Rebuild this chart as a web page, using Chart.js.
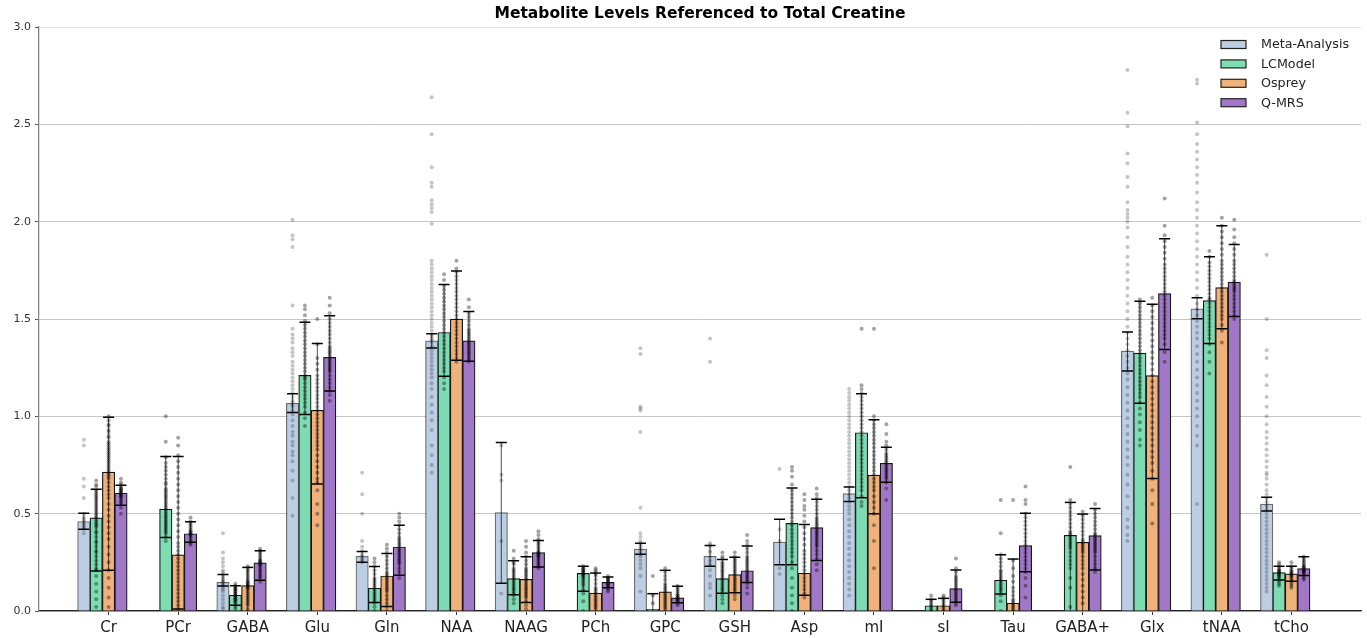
<!DOCTYPE html>
<html>
<head>
<meta charset="utf-8">
<script src="https://cdn.jsdelivr.net/npm/chart.js@4.4.1/dist/chart.umd.min.js"></script>
<style>
  html, body { margin: 0; padding: 0; background: #ffffff; }
  canvas { display: block; }
</style>
</head>
<body>
<canvas id="chart" width="1367" height="638"></canvas>
<script>
// ---- categories and series -------------------------------------------------
const metabolites = ['Cr', 'PCr', 'GABA', 'Glu', 'Gln', 'NAA', 'NAAG', 'PCh', 'GPC',
  'GSH', 'Asp', 'mI', 'sI', 'Tau', 'GABA+', 'Glx', 'tNAA', 'tCho'];
const methods = ['Meta-Analysis', 'LCModel', 'Osprey', 'Q-MRS'];
const yTickValues = [0, 0.5, 1.0, 1.5, 2.0, 2.5, 3.0];

// bar heights (null = no value for that metabolite)
const metaMean = [0.46, null, 0.147, 1.067, 0.281, 1.388, 0.506, null, 0.318, 0.281, 0.354, 0.603, null, null, null, 1.335, 1.552, 0.549];
const lcmMean  = [0.479, 0.524, 0.081, 1.211, 0.117, 1.431, 0.166, 0.193, 0.009, 0.166, 0.45, 0.916, 0.027, 0.158, 0.389, 1.325, 1.595, 0.197];
const ospMean  = [0.714, 0.288, 0.13, 1.031, 0.18, 1.5, 0.163, 0.092, 0.098, 0.187, 0.194, 0.698, 0.027, 0.04, 0.353, 1.209, 1.662, 0.191];
const qmrsMean = [0.605, 0.397, 0.247, 1.303, 0.329, 1.388, 0.3, 0.147, 0.068, 0.207, 0.428, 0.759, 0.115, 0.336, 0.387, 1.631, 1.69, 0.218];

// error bar ends
const metaLow  = [0.42, null, 0.128, 1.02, 0.251, 1.351, 0.142, null, 0.291, 0.23, 0.238, 0.563, null, null, null, 1.233, 1.501, 0.514];
const metaHigh = [0.502, null, 0.188, 1.116, 0.306, 1.424, 0.866, null, 0.348, 0.336, 0.471, 0.637, null, null, null, 1.433, 1.609, 0.585];
const lcmLow   = [0.205, 0.377, 0.03, 1.01, 0.044, 1.206, 0.083, 0.101, 0, 0.091, 0.238, 0.582, 0, 0.087, 0, 1.067, 1.375, 0.159];
const lcmHigh  = [0.625, 0.794, 0.13, 1.483, 0.228, 1.677, 0.258, 0.23, 0.089, 0.265, 0.632, 1.116, 0.06, 0.289, 0.558, 1.591, 1.82, 0.23];
const ospLow   = [0.209, 0.01, 0, 0.652, 0.023, 1.288, 0.044, 0, 0, 0.094, 0.081, 0.5, 0, 0, 0, 0.681, 1.45, 0.153];
const ospHigh  = [0.996, 0.794, 0.224, 1.375, 0.295, 1.747, 0.279, 0.195, 0.209, 0.276, 0.445, 0.983, 0.065, 0.267, 0.498, 1.576, 1.98, 0.23];
const qmrsLow  = [0.543, 0.353, 0.158, 1.13, 0.184, 1.283, 0.226, 0.119, 0.043, 0.147, 0.26, 0.661, 0.045, 0.202, 0.211, 1.343, 1.513, 0.183];
const qmrsHigh = [0.646, 0.459, 0.31, 1.517, 0.441, 1.539, 0.362, 0.175, 0.127, 0.334, 0.574, 0.841, 0.211, 0.502, 0.526, 1.912, 1.883, 0.279];

// individual values shown as dots over each bar
const metaDots = [
  [0.88, 0.85, 0.68, 0.64, 0.58, 0.50, 0.48, 0.47, 0.46, 0.45, 0.44, 0.43, 0.42, 0.40],
  [],
  [0.40, 0.30, 0.27, 0.25, 0.23, 0.21, 0.20, 0.19, 0.18, 0.17, 0.16, 0.15, 0.15, 0.14, 0.13, 0.12, 0.11, 0.10, 0.08, 0.06, 0.04, 0.02, 0.01],
  [2.01, 1.93, 1.91, 1.87, 1.57, 1.45, 1.42, 1.40, 1.38, 1.35, 1.33, 1.31, 1.28, 1.26, 1.24, 1.22, 1.20, 1.18, 1.16, 1.14, 1.12, 1.10, 1.08, 1.07, 1.06, 1.05, 1.03, 1.01, 0.98, 0.95, 0.92, 0.90, 0.87, 0.85, 0.82, 0.80, 0.77, 0.72, 0.67, 0.58, 0.49],
  [0.71, 0.60, 0.50, 0.36, 0.33, 0.31, 0.29, 0.28, 0.27, 0.26, 0.25],
  [2.64, 2.45, 2.28, 2.20, 2.18, 2.11, 2.09, 2.07, 2.05, 1.99, 1.80, 1.78, 1.76, 1.74, 1.72, 1.70, 1.68, 1.66, 1.64, 1.62, 1.60, 1.58, 1.56, 1.54, 1.52, 1.50, 1.48, 1.46, 1.44, 1.42, 1.41, 1.40, 1.39, 1.38, 1.36, 1.34, 1.32, 1.30, 1.28, 1.26, 1.24, 1.22, 1.20, 1.17, 1.14, 1.10, 1.06, 1.02, 0.98, 0.93, 0.85, 0.80, 0.75, 0.71],
  [0.85, 0.70, 0.67, 0.36, 0.09],
  [],
  [1.35, 1.32, 1.05, 1.04, 1.03, 0.92, 0.53, 0.40, 0.38, 0.36, 0.35, 0.34, 0.33, 0.32, 0.31, 0.30, 0.29, 0.28, 0.26, 0.24, 0.22, 0.18, 0.10],
  [1.40, 1.28, 0.35, 0.34, 0.33, 0.31, 0.30, 0.28, 0.26, 0.24, 0.21, 0.18, 0.14, 0.12, 0.08],
  [0.73, 0.42, 0.36, 0.22, 0.19],
  [1.14, 1.12, 1.10, 1.08, 1.06, 1.04, 1.02, 1.00, 0.98, 0.96, 0.94, 0.92, 0.90, 0.88, 0.86, 0.84, 0.82, 0.80, 0.78, 0.76, 0.74, 0.72, 0.70, 0.68, 0.66, 0.64, 0.62, 0.60, 0.58, 0.56, 0.54, 0.52, 0.50, 0.47, 0.44, 0.41, 0.38, 0.35, 0.32, 0.29, 0.26, 0.23, 0.20, 0.17, 0.14, 0.11, 0.08],
  [],
  [],
  [],
  [2.78, 2.56, 2.49, 2.35, 2.30, 2.23, 2.18, 2.10, 2.06, 2.04, 2.02, 2.00, 1.97, 1.92, 1.87, 1.82, 1.78, 1.74, 1.70, 1.66, 1.62, 1.58, 1.54, 1.50, 1.46, 1.43, 1.40, 1.37, 1.34, 1.31, 1.28, 1.25, 1.22, 1.19, 1.15, 1.11, 1.07, 1.03, 0.99, 0.95, 0.91, 0.87, 0.83, 0.79, 0.75, 0.70, 0.65, 0.59, 0.53, 0.47, 0.43, 0.39, 0.36],
  [2.73, 2.71, 2.51, 2.45, 2.40, 2.36, 2.32, 2.28, 2.24, 2.20, 2.15, 2.10, 2.06, 2.02, 1.98, 1.94, 1.90, 1.86, 1.82, 1.78, 1.74, 1.70, 1.66, 1.62, 1.58, 1.55, 1.52, 1.49, 1.46, 1.43, 1.40, 1.36, 1.32, 1.28, 1.24, 1.20, 1.16, 1.12, 1.08, 1.04, 1.00, 0.95, 0.90, 0.85, 0.55],
  [1.83, 1.50, 1.34, 1.30, 1.21, 1.16, 1.10, 1.05, 1.00, 0.96, 0.92, 0.89, 0.86, 0.83, 0.80, 0.77, 0.74, 0.71, 0.70, 0.68, 0.65, 0.62, 0.60, 0.58, 0.56, 0.54, 0.52, 0.50, 0.48, 0.46, 0.44, 0.42, 0.40, 0.38, 0.36, 0.34, 0.32, 0.30, 0.28, 0.26, 0.24, 0.22, 0.20, 0.18, 0.16, 0.14, 0.12, 0.10]
];
const lcmDots = [
  [0.67, 0.65, 0.64, 0.62, 0.61, 0.60, 0.59, 0.58, 0.57, 0.56, 0.55, 0.54, 0.53, 0.52, 0.51, 0.50, 0.49, 0.48, 0.47, 0.46, 0.45, 0.44, 0.43, 0.41, 0.40, 0.38, 0.36, 0.35, 0.33, 0.31, 0.30, 0.28, 0.26, 0.24, 0.22, 0.21, 0.18, 0.14, 0.10, 0.06, 0.02],
  [1.00, 0.87, 0.79, 0.76, 0.74, 0.72, 0.70, 0.68, 0.66, 0.65, 0.63, 0.62, 0.61, 0.60, 0.59, 0.58, 0.57, 0.56, 0.55, 0.54, 0.53, 0.52, 0.51, 0.50, 0.49, 0.48, 0.47, 0.46, 0.45, 0.44, 0.43, 0.42, 0.41, 0.40, 0.38, 0.36],
  [0.14, 0.13, 0.12, 0.12, 0.11, 0.11, 0.10, 0.10, 0.09, 0.09, 0.08, 0.08, 0.07, 0.07, 0.06, 0.06, 0.05, 0.05, 0.04, 0.03, 0.02, 0.01],
  [1.57, 1.55, 1.52, 1.49, 1.47, 1.45, 1.43, 1.41, 1.39, 1.37, 1.35, 1.33, 1.31, 1.29, 1.27, 1.25, 1.23, 1.21, 1.20, 1.19, 1.17, 1.15, 1.13, 1.11, 1.09, 1.07, 1.05, 1.02, 0.99, 0.95],
  [0.27, 0.25, 0.23, 0.21, 0.19, 0.17, 0.16, 0.15, 0.14, 0.13, 0.12, 0.11, 0.10, 0.09, 0.08, 0.07, 0.06, 0.05, 0.04, 0.02, 0.00],
  [1.73, 1.70, 1.67, 1.65, 1.63, 1.61, 1.59, 1.57, 1.55, 1.53, 1.51, 1.49, 1.47, 1.45, 1.43, 1.41, 1.39, 1.37, 1.35, 1.33, 1.31, 1.29, 1.27, 1.25, 1.23, 1.20, 1.17, 1.14],
  [0.31, 0.27, 0.25, 0.24, 0.22, 0.21, 0.20, 0.19, 0.18, 0.17, 0.16, 0.15, 0.14, 0.13, 0.12, 0.11, 0.10, 0.09, 0.08, 0.06, 0.04],
  [0.23, 0.22, 0.22, 0.21, 0.21, 0.20, 0.20, 0.19, 0.19, 0.18, 0.18, 0.17, 0.16, 0.15, 0.14, 0.13, 0.11, 0.09, 0.05, 0.00],
  [0.18, 0.08, 0.04],
  [0.30, 0.28, 0.27, 0.25, 0.24, 0.23, 0.22, 0.21, 0.20, 0.19, 0.18, 0.17, 0.16, 0.15, 0.14, 0.13, 0.12, 0.11, 0.10, 0.08, 0.06, 0.04],
  [0.74, 0.72, 0.69, 0.65, 0.62, 0.60, 0.58, 0.56, 0.54, 0.52, 0.50, 0.48, 0.46, 0.44, 0.42, 0.40, 0.38, 0.36, 0.34, 0.32, 0.30, 0.28, 0.25, 0.22, 0.17, 0.12, 0.08, 0.04, 0.00],
  [1.45, 1.16, 1.14, 1.12, 1.10, 1.08, 1.06, 1.04, 1.02, 1.00, 0.98, 0.96, 0.94, 0.92, 0.90, 0.88, 0.86, 0.84, 0.82, 0.80, 0.78, 0.76, 0.74, 0.72, 0.70, 0.68, 0.66, 0.64, 0.62, 0.59, 0.56, 0.54],
  [0.08, 0.06, 0.05, 0.04, 0.03, 0.02, 0.01, 0.00],
  [0.57, 0.40, 0.29, 0.27, 0.25, 0.23, 0.21, 0.20, 0.19, 0.18, 0.17, 0.16, 0.15, 0.14, 0.13, 0.12, 0.11, 0.10, 0.08, 0.05, 0.00],
  [0.74, 0.57, 0.55, 0.53, 0.51, 0.49, 0.47, 0.45, 0.43, 0.41, 0.40, 0.39, 0.38, 0.37, 0.36, 0.35, 0.34, 0.33, 0.32, 0.30, 0.28, 0.26, 0.24, 0.22, 0.17, 0.12, 0.02],
  [1.60, 1.58, 1.56, 1.54, 1.52, 1.50, 1.48, 1.46, 1.44, 1.42, 1.40, 1.38, 1.36, 1.34, 1.32, 1.30, 1.28, 1.26, 1.24, 1.22, 1.20, 1.18, 1.16, 1.14, 1.12, 1.10, 1.07, 1.04, 1.01, 0.97, 0.93, 0.88, 0.85],
  [1.85, 1.82, 1.79, 1.77, 1.75, 1.73, 1.71, 1.69, 1.67, 1.65, 1.63, 1.61, 1.60, 1.58, 1.56, 1.54, 1.52, 1.50, 1.48, 1.46, 1.44, 1.42, 1.40, 1.37, 1.33, 1.28, 1.22],
  [0.25, 0.24, 0.23, 0.22, 0.21, 0.21, 0.20, 0.20, 0.19, 0.19, 0.18, 0.18, 0.17, 0.16, 0.15, 0.14, 0.13]
];
const ospDots = [
  [1.00, 0.98, 0.96, 0.95, 0.93, 0.92, 0.90, 0.89, 0.87, 0.86, 0.85, 0.84, 0.83, 0.82, 0.81, 0.80, 0.79, 0.78, 0.77, 0.76, 0.75, 0.74, 0.73, 0.72, 0.71, 0.70, 0.69, 0.68, 0.66, 0.64, 0.62, 0.60, 0.58, 0.55, 0.52, 0.49, 0.46, 0.43, 0.40, 0.37, 0.33, 0.29, 0.25, 0.21, 0.17, 0.12, 0.07, 0.02],
  [0.89, 0.85, 0.80, 0.77, 0.74, 0.71, 0.68, 0.65, 0.62, 0.59, 0.56, 0.53, 0.50, 0.47, 0.44, 0.41, 0.38, 0.35, 0.33, 0.31, 0.29, 0.27, 0.25, 0.23, 0.21, 0.19, 0.17, 0.15, 0.13, 0.11, 0.09, 0.07, 0.05, 0.03, 0.01],
  [0.23, 0.22, 0.21, 0.20, 0.19, 0.18, 0.17, 0.16, 0.15, 0.15, 0.14, 0.14, 0.13, 0.13, 0.12, 0.12, 0.11, 0.10, 0.09, 0.08, 0.07, 0.06, 0.05, 0.04, 0.03, 0.01],
  [1.50, 1.37, 1.30, 1.27, 1.24, 1.21, 1.19, 1.17, 1.15, 1.13, 1.11, 1.09, 1.07, 1.05, 1.03, 1.01, 0.99, 0.97, 0.95, 0.93, 0.91, 0.89, 0.87, 0.85, 0.83, 0.80, 0.77, 0.74, 0.71, 0.68, 0.66, 0.62, 0.55, 0.50, 0.44],
  [0.34, 0.32, 0.30, 0.28, 0.26, 0.24, 0.22, 0.20, 0.19, 0.18, 0.17, 0.16, 0.15, 0.14, 0.13, 0.12, 0.11, 0.10, 0.08, 0.06, 0.04, 0.02, 0.00],
  [1.80, 1.76, 1.74, 1.72, 1.70, 1.68, 1.66, 1.64, 1.62, 1.60, 1.58, 1.56, 1.54, 1.52, 1.50, 1.48, 1.46, 1.44, 1.42, 1.40, 1.38, 1.36, 1.34, 1.32, 1.30, 1.28],
  [0.36, 0.33, 0.30, 0.28, 0.26, 0.24, 0.22, 0.21, 0.20, 0.19, 0.18, 0.17, 0.16, 0.15, 0.14, 0.13, 0.12, 0.11, 0.10, 0.09, 0.08, 0.07, 0.05, 0.03, 0.01],
  [0.22, 0.21, 0.20, 0.19, 0.18, 0.16, 0.14, 0.12, 0.11, 0.10, 0.09, 0.08, 0.07, 0.06, 0.05, 0.04, 0.03, 0.02, 0.01],
  [0.22, 0.20, 0.18, 0.16, 0.14, 0.13, 0.12, 0.11, 0.10, 0.09, 0.08, 0.07, 0.06, 0.05, 0.04, 0.03, 0.02, 0.01],
  [0.30, 0.28, 0.27, 0.26, 0.25, 0.24, 0.23, 0.22, 0.21, 0.20, 0.19, 0.18, 0.17, 0.16, 0.15, 0.14, 0.13, 0.12, 0.11, 0.10, 0.08, 0.06],
  [0.60, 0.57, 0.54, 0.52, 0.49, 0.46, 0.43, 0.40, 0.37, 0.34, 0.31, 0.29, 0.27, 0.25, 0.23, 0.21, 0.19, 0.17, 0.15, 0.13, 0.11, 0.09, 0.07],
  [1.45, 1.00, 0.98, 0.96, 0.94, 0.92, 0.90, 0.88, 0.86, 0.84, 0.82, 0.80, 0.78, 0.76, 0.74, 0.72, 0.70, 0.68, 0.66, 0.64, 0.62, 0.59, 0.56, 0.53, 0.50, 0.44, 0.36, 0.22],
  [0.08, 0.07, 0.06, 0.05, 0.04, 0.03, 0.02, 0.01, 0.00],
  [0.57, 0.26, 0.22, 0.18, 0.15, 0.12, 0.10, 0.08, 0.06, 0.05, 0.04, 0.03, 0.02, 0.01, 0.00],
  [0.51, 0.49, 0.47, 0.45, 0.43, 0.41, 0.39, 0.37, 0.36, 0.35, 0.34, 0.33, 0.32, 0.31, 0.30, 0.28, 0.26, 0.24, 0.22, 0.19, 0.16, 0.13, 0.10, 0.07, 0.04],
  [1.61, 1.57, 1.54, 1.51, 1.48, 1.45, 1.42, 1.39, 1.36, 1.33, 1.30, 1.27, 1.24, 1.21, 1.18, 1.15, 1.12, 1.09, 1.06, 1.03, 1.00, 0.97, 0.94, 0.91, 0.88, 0.85, 0.82, 0.79, 0.76, 0.72, 0.68, 0.62, 0.55, 0.45],
  [2.02, 1.98, 1.95, 1.92, 1.89, 1.86, 1.83, 1.80, 1.78, 1.76, 1.74, 1.72, 1.70, 1.68, 1.66, 1.64, 1.62, 1.60, 1.58, 1.56, 1.54, 1.52, 1.50, 1.47, 1.44, 1.38],
  [0.25, 0.23, 0.22, 0.21, 0.20, 0.20, 0.19, 0.19, 0.18, 0.18, 0.17, 0.16, 0.15, 0.14, 0.13, 0.12]
];
const qmrsDots = [
  [0.68, 0.66, 0.65, 0.64, 0.63, 0.63, 0.62, 0.62, 0.61, 0.61, 0.60, 0.60, 0.59, 0.59, 0.58, 0.57, 0.56, 0.55, 0.53, 0.50],
  [0.48, 0.46, 0.45, 0.44, 0.43, 0.42, 0.41, 0.41, 0.40, 0.40, 0.39, 0.39, 0.38, 0.37, 0.36, 0.35, 0.34],
  [0.32, 0.31, 0.30, 0.29, 0.28, 0.27, 0.26, 0.26, 0.25, 0.25, 0.24, 0.24, 0.23, 0.22, 0.21, 0.20, 0.19, 0.18, 0.17, 0.15],
  [1.61, 1.57, 1.53, 1.50, 1.48, 1.46, 1.44, 1.42, 1.40, 1.38, 1.36, 1.35, 1.34, 1.33, 1.32, 1.31, 1.30, 1.29, 1.28, 1.27, 1.26, 1.25, 1.24, 1.23, 1.21, 1.19, 1.17, 1.15, 1.13, 1.11, 1.08],
  [0.50, 0.48, 0.46, 0.44, 0.42, 0.40, 0.38, 0.37, 0.36, 0.35, 0.34, 0.33, 0.32, 0.31, 0.30, 0.29, 0.28, 0.27, 0.26, 0.25, 0.24, 0.22, 0.20, 0.17],
  [1.60, 1.56, 1.53, 1.51, 1.49, 1.47, 1.45, 1.44, 1.43, 1.42, 1.41, 1.40, 1.39, 1.38, 1.37, 1.36, 1.35, 1.34, 1.33, 1.32, 1.31, 1.30, 1.29, 1.28],
  [0.41, 0.39, 0.37, 0.36, 0.35, 0.34, 0.33, 0.32, 0.31, 0.30, 0.30, 0.29, 0.29, 0.28, 0.28, 0.27, 0.26, 0.25, 0.24, 0.23, 0.22],
  [0.18, 0.17, 0.17, 0.16, 0.16, 0.15, 0.15, 0.14, 0.14, 0.13, 0.13, 0.12, 0.11, 0.10],
  [0.13, 0.12, 0.11, 0.10, 0.09, 0.08, 0.08, 0.07, 0.07, 0.06, 0.06, 0.05, 0.05, 0.04, 0.03],
  [0.39, 0.36, 0.34, 0.32, 0.30, 0.28, 0.27, 0.26, 0.25, 0.24, 0.23, 0.22, 0.21, 0.20, 0.19, 0.18, 0.17, 0.16, 0.15, 0.14, 0.12, 0.09],
  [0.63, 0.60, 0.58, 0.56, 0.54, 0.52, 0.50, 0.48, 0.47, 0.46, 0.45, 0.44, 0.43, 0.42, 0.41, 0.40, 0.39, 0.38, 0.37, 0.36, 0.35, 0.34, 0.33, 0.31, 0.29, 0.27, 0.24, 0.21],
  [0.96, 0.91, 0.87, 0.85, 0.83, 0.81, 0.80, 0.79, 0.78, 0.77, 0.76, 0.75, 0.74, 0.73, 0.72, 0.71, 0.70, 0.69, 0.68, 0.66, 0.63, 0.57],
  [0.27, 0.22, 0.20, 0.18, 0.17, 0.16, 0.15, 0.14, 0.13, 0.12, 0.11, 0.10, 0.09, 0.08, 0.07, 0.06, 0.05, 0.04, 0.03],
  [0.64, 0.57, 0.55, 0.50, 0.48, 0.46, 0.44, 0.42, 0.40, 0.38, 0.36, 0.34, 0.32, 0.30, 0.28, 0.26, 0.24, 0.22, 0.20, 0.17, 0.13, 0.07],
  [0.55, 0.52, 0.50, 0.48, 0.46, 0.44, 0.42, 0.40, 0.39, 0.38, 0.37, 0.36, 0.35, 0.34, 0.33, 0.32, 0.31, 0.30, 0.28, 0.26, 0.24, 0.22, 0.20],
  [2.12, 1.98, 1.93, 1.90, 1.87, 1.84, 1.81, 1.78, 1.76, 1.74, 1.72, 1.70, 1.68, 1.66, 1.64, 1.62, 1.60, 1.58, 1.56, 1.54, 1.52, 1.50, 1.48, 1.46, 1.44, 1.42, 1.40, 1.37, 1.33, 1.28],
  [2.01, 1.96, 1.92, 1.89, 1.86, 1.83, 1.80, 1.78, 1.76, 1.74, 1.72, 1.70, 1.69, 1.68, 1.67, 1.66, 1.65, 1.64, 1.62, 1.60, 1.58, 1.56, 1.54, 1.52, 1.50],
  [0.28, 0.27, 0.26, 0.25, 0.24, 0.23, 0.23, 0.22, 0.22, 0.21, 0.21, 0.20, 0.20, 0.19, 0.18, 0.17, 0.16]
];

// ---- styling ---------------------------------------------------------------
const means = [metaMean, lcmMean, ospMean, qmrsMean];
const lows = [metaLow, lcmLow, ospLow, qmrsLow];
const highs = [metaHigh, lcmHigh, ospHigh, qmrsHigh];
const dots = [metaDots, lcmDots, ospDots, qmrsDots];

const fillColors = ['#bccee4', '#7ddcb4', '#f0b17a', '#a078c7'];
const edgeColors = ['rgba(30,30,30,0.65)', '#161616', '#161616', '#161616'];
const dotColors = ['rgba(40,40,40,0.27)', 'rgba(0,0,0,0.36)', 'rgba(0,0,0,0.36)', 'rgba(0,0,0,0.36)'];
const slot = [-2, -1, 0, 1];         // bar position inside a group, in bar widths
const BAR_W = 0.178;                 // bar width in x units
const X_MIN = -1, X_MAX = 18;
const FONT = "'DejaVu Sans', 'Liberation Sans', sans-serif";

function barX(m, i) { return i + slot[m] * BAR_W; }

const datasets = [];
methods.forEach((name, m) => {
  const pts = [];
  means[m].forEach((v, i) => { if (v !== null) pts.push({ x: barX(m, i), y: v }); });
  datasets.push({
    type: 'bar',
    label: name,
    data: pts,
    backgroundColor: fillColors[m],
    borderColor: edgeColors[m],
    borderWidth: 1.2,
    borderSkipped: 'start',
    barThickness: 12.4,
    grouped: false,
    order: 2
  });
});
methods.forEach((name, m) => {
  const pts = [];
  dots[m].forEach((list, i) => {
    if (means[m][i] === null) return;
    list.forEach(v => pts.push({ x: barX(m, i), y: v }));
  });
  datasets.push({
    type: 'scatter',
    label: name + ' values',
    data: pts,
    pointRadius: 2,
    pointHoverRadius: 2,
    pointBackgroundColor: dotColors[m],
    pointBorderWidth: 0,
    showLine: false,
    order: 1
  });
});

// error bars: thin stem with caps at both ends
const errorBars = {
  id: 'errorBars',
  afterDatasetsDraw(chart) {
    const { ctx, scales: { x, y } } = chart;
    ctx.save();
    methods.forEach((name, m) => {
      means[m].forEach((v, i) => {
        if (v === null) return;
        const cx = x.getPixelForValue(barX(m, i));
        const yl = y.getPixelForValue(Math.max(lows[m][i], 0));
        const yh = y.getPixelForValue(highs[m][i]);
        ctx.strokeStyle = 'rgba(0,0,0,0.7)';
        ctx.lineWidth = 1;
        ctx.beginPath();
        ctx.moveTo(cx, yl);
        ctx.lineTo(cx, yh);
        ctx.stroke();
        ctx.strokeStyle = '#000';
        ctx.lineWidth = 1.5;
        ctx.beginPath();
        ctx.moveTo(cx - 5.5, yh); ctx.lineTo(cx + 5.5, yh);
        if (lows[m][i] > 0.005) { ctx.moveTo(cx - 5.5, yl); ctx.lineTo(cx + 5.5, yl); }
        ctx.stroke();
      });
    });
    ctx.restore();
  }
};

// legend in the upper right corner of the plot
const cornerLegend = {
  id: 'cornerLegend',
  afterDraw(chart) {
    const { ctx } = chart;
    ctx.save();
    ctx.font = '12.7px ' + FONT;
    ctx.textBaseline = 'middle';
    ctx.textAlign = 'left';
    methods.forEach((name, m) => {
      const cy = 44.5 + m * 19.4;
      ctx.fillStyle = fillColors[m];
      ctx.fillRect(1221, cy - 4, 25, 8);
      ctx.strokeStyle = '#222';
      ctx.lineWidth = 1.2;
      ctx.strokeRect(1221, cy - 4, 25, 8);
      ctx.fillStyle = '#222';
      ctx.fillText(name, 1261, cy + 0.5);
    });
    ctx.restore();
  }
};

new Chart(document.getElementById('chart'), {
  type: 'bar',
  data: { datasets },
  plugins: [errorBars, cornerLegend],
  options: {
    responsive: false,
    animation: false,
    devicePixelRatio: 1,
    events: [],
    layout: { padding: { left: 0, right: 6, top: 0, bottom: 0 } },
    plugins: {
      legend: { display: false },
      tooltip: { enabled: false },
      title: {
        display: true,
        fullSize: false,
        text: 'Metabolite Levels Referenced to Total Creatine',
        color: '#000',
        font: { family: FONT, size: 15.5, weight: 'bold' },
        padding: { top: 4.5, bottom: 4 }
      }
    },
    scales: {
      x: {
        type: 'linear',
        min: X_MIN,
        max: X_MAX,
        offset: false,
        afterBuildTicks(scale) { scale.ticks = metabolites.map((_, i) => ({ value: i })); },
        afterFit(scale) { scale.height = 27; },
        ticks: {
          autoSkip: false,
          maxRotation: 0,
          padding: 4,
          color: '#222',
          font: { family: FONT, size: 15 },
          callback: (v) => metabolites[v]
        },
        grid: { display: true, drawOnChartArea: false, drawTicks: true, tickLength: 4, tickColor: '#333', offset: false },
        border: { display: true, color: '#222', width: 1.3 }
      },
      y: {
        min: 0,
        max: 3,
        afterBuildTicks(scale) { scale.ticks = yTickValues.map(v => ({ value: v })); },
        afterFit(scale) { scale.width = 39; },
        ticks: {
          padding: 4,
          color: '#333',
          font: { family: FONT, size: 11 },
          callback: (v) => Number(v).toFixed(1)
        },
        grid: {
          color: (c) => (c.tick && c.tick.value === 3 ? '#e4e4e4' : '#c6c6c6'),
          lineWidth: 1,
          drawTicks: true,
          tickLength: 4,
          tickColor: '#555'
        },
        border: { display: true, color: '#888', width: 1.3 }
      }
    }
  }
});
</script>
</body>
</html>
